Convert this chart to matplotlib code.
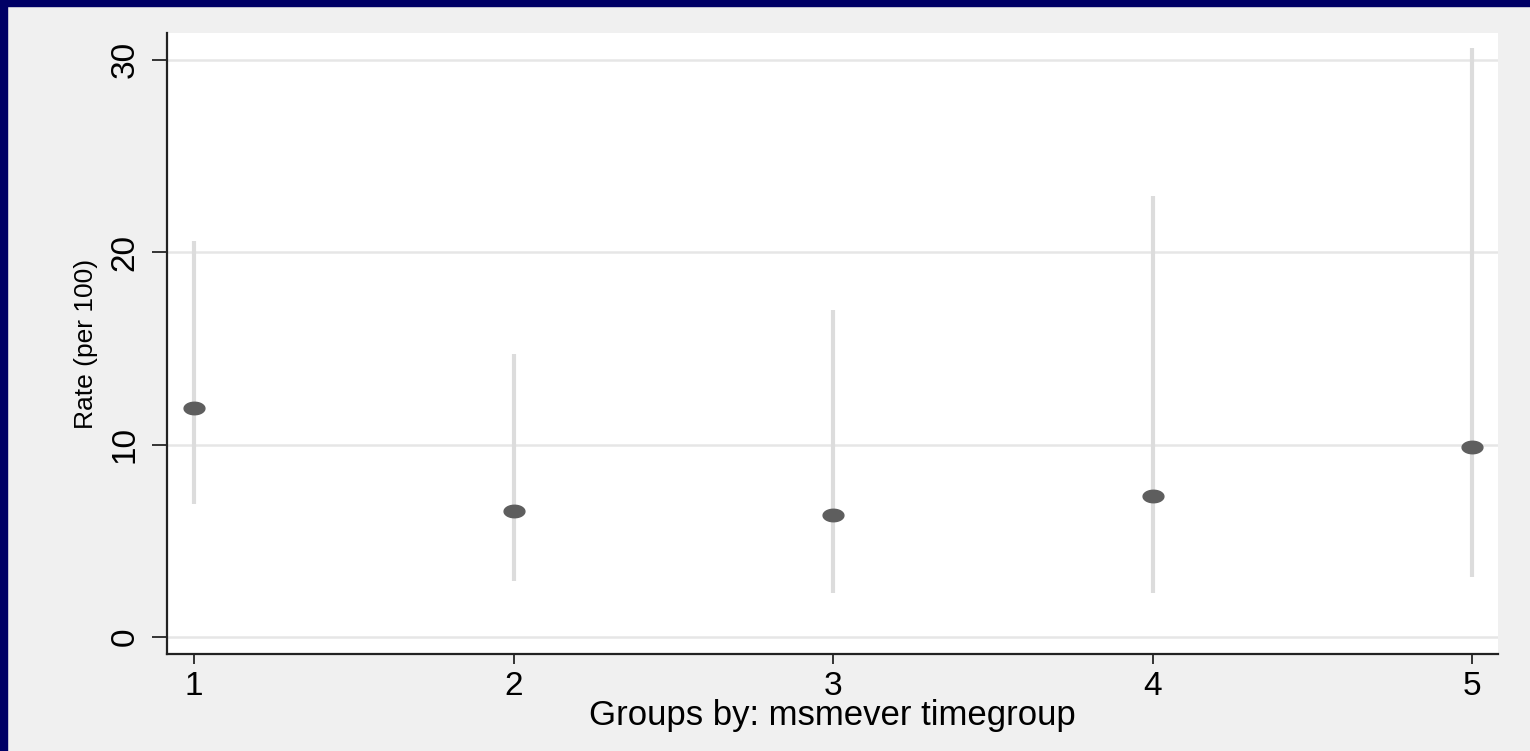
import numpy as np
import matplotlib
matplotlib.use("Agg")
import matplotlib.pyplot as plt
from matplotlib.path import Path
from matplotlib.patches import Rectangle

plt.rcParams["font.family"] = ["Liberation Sans", "DejaVu Sans"]

# data
groups = [1, 2, 3, 4, 5]
rate = [11.9, 6.55, 6.35, 7.35, 9.9]
ci_low = [6.9, 2.9, 2.3, 2.3, 3.1]
ci_high = [20.6, 14.7, 17.0, 22.9, 30.6]
yticks = [0, 10, 20, 30]

# flat ellipse marker like the stata dot
t = np.linspace(0, 2 * np.pi, 40)
ellipse = Path(np.column_stack([np.cos(t), 0.6 * np.sin(t)]), closed=True)

fig = plt.figure(figsize=(15.3, 7.51), dpi=100, facecolor="#f0f0f0")
ax = fig.add_axes([167 / 1530, 97 / 751, (1498 - 167) / 1530, (654 - 33) / 751])
ax.set_facecolor("white")

# navy frame on left and top
fig.patches.append(Rectangle((0, 0), 7 / 1530, 1, transform=fig.transFigure,
                             color="#000066", zorder=10))
fig.patches.append(Rectangle((0, 1 - 6 / 751), 1, 6 / 751, transform=fig.transFigure,
                             color="#000066", zorder=10))

ax.vlines(groups, ci_low, ci_high, color="#dcdcdc", lw=3, zorder=2)
ax.plot(groups, rate, ls="none", marker=ellipse, ms=15, color="#5e5e5e",
        mec="#5e5e5e", zorder=3)

ax.set_xlim(0.915, 5.08)
ax.set_ylim(-0.885, 31.4)
ax.set_xticks(groups)
ax.set_yticks(yticks)
ax.set_yticklabels([str(v) for v in yticks], rotation=90, va="center")
ax.grid(axis="y", color="#e6e6e6", lw=1.8, zorder=1)
ax.set_axisbelow(True)

for s in ["top", "right"]:
    ax.spines[s].set_visible(False)
for s in ["left", "bottom"]:
    ax.spines[s].set_color("#222222")
    ax.spines[s].set_linewidth(1.6)

ax.tick_params(axis="y", length=11, width=1.1, pad=8, labelsize=24, colors="black")
ax.tick_params(axis="x", length=7, width=1.1, pad=5, labelsize=24, colors="black")

ax.set_xlabel("Groups by: msmever timegroup", fontsize=25, labelpad=-2)
ax.set_ylabel("Rate (per 100)", fontsize=19, labelpad=8)

fig.savefig("out.png", dpi=100, facecolor=fig.get_facecolor())
